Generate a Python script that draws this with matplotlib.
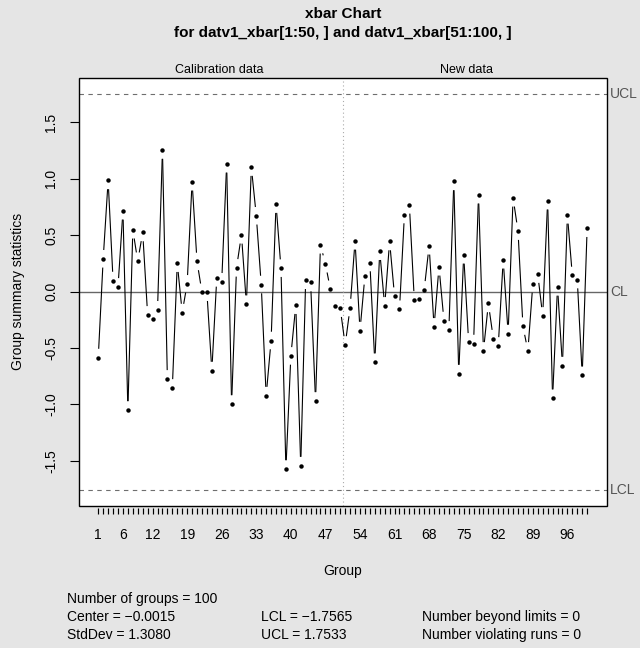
import numpy as np
import matplotlib
matplotlib.use("Agg")
import matplotlib.pyplot as plt
from matplotlib.transforms import blended_transform_factory

plt.rcParams['font.family'] = ['Liberation Sans', 'DejaVu Sans']

# group means, calibration (1-50) and new data (51-100)
stats = [-0.585, 0.290, 0.984, 0.097, 0.041, 0.715, -1.049, 0.547, 0.269, 0.523,
         -0.207, -0.239, -0.162, 1.253, -0.774, -0.854, 0.251, -0.186, 0.068, 0.972,
         0.266, -0.006, -0.006, -0.700, 0.121, 0.086, 1.131, -0.996, 0.210, 0.502,
         -0.112, 1.102, 0.671, 0.062, -0.922, -0.434, 0.774, 0.207, -1.572, -0.570,
         -0.121, -1.542, 0.100, 0.080, -0.969, 0.414, 0.245, 0.021, -0.124, -0.148,
         -0.473, -0.142, 0.449, -0.346, 0.139, 0.257, -0.626, 0.357, -0.127, 0.443,
         -0.041, -0.157, 0.682, 0.768, -0.074, -0.065, 0.015, 0.405, -0.313, 0.219,
         -0.257, -0.340, 0.975, -0.727, 0.325, -0.446, -0.461, 0.857, -0.526, -0.106,
         -0.417, -0.482, 0.281, -0.372, 0.830, 0.535, -0.307, -0.526, 0.068, 0.154,
         -0.216, 0.804, -0.945, 0.041, -0.656, 0.679, 0.142, 0.106, -0.742, 0.561]
n_calib = 50
center = -0.0015
std_dev = 1.3080
lcl = -1.7565
ucl = 1.7533
xtick_labels = [1, 6, 12, 19, 26, 33, 40, 47, 54, 61, 68, 75, 82, 89, 96]
ytick_values = [-1.5, -1.0, -0.5, 0.0, 0.5, 1.0, 1.5]

groups = np.arange(1, len(stats) + 1)
y = np.array(stats)


def fmt(v):
    return ('%.4f' % v).replace('-', '\u2212')


W, H = 640, 648
fig = plt.figure(figsize=(W / 100, H / 100), dpi=100, facecolor='#e5e5e5')
ax = fig.add_axes([78.7 / W, 1 - 505.7 / H, 528 / W, 428 / H])
ax.set_facecolor('white')

# R style 4% axis extension
lo, hi = min(y.min(), lcl), max(y.max(), ucl)
ext = 0.04 * (hi - lo)
ax.set_ylim(lo - ext, hi + ext)
xext = 0.04 * (len(stats) - 1)
ax.set_xlim(1 - xext, len(stats) + xext)

# control limits
ax.axhline(center, color='#666666', lw=1.0)
ax.axhline(ucl, color='#6e6e6e', lw=0.8, linestyle=(0, (4, 4)))
ax.axhline(lcl, color='#6e6e6e', lw=0.8, linestyle=(0, (4, 4)))
ax.axvline(n_calib + 0.5, color='#aaaaaa', lw=0.8, linestyle=(0, (1, 2.5)))

# lines with gaps around the points (like type = "b")
gap = 8.8
pts = ax.transData.transform(np.column_stack([groups, y]))
inv = ax.transData.inverted()
for i in range(len(pts) - 1):
    p0, p1 = pts[i], pts[i + 1]
    d = np.hypot(*(p1 - p0))
    if d > 2 * gap:
        f = gap / d
        a = inv.transform(p0 + f * (p1 - p0))
        b = inv.transform(p1 + f * (p0 - p1))
        ax.plot([a[0], b[0]], [a[1], b[1]], color='black', lw=0.8,
                solid_capstyle='butt')
ax.plot(groups, y, linestyle='none', marker='o', ms=3.2, color='black',
        markeredgewidth=0)

# axes frame and ticks
for s in ax.spines.values():
    s.set_visible(False)
ax.add_patch(plt.Rectangle((0, 0), 1, 1, transform=ax.transAxes, fill=False,
                           edgecolor='black', lw=1.0, clip_on=False, zorder=5))
ax.spines['bottom'].set_visible(True)
ax.spines['bottom'].set_color('none')
ax.spines['bottom'].set_position(('outward', 1.5))
ax.spines['left'].set_visible(True)
ax.spines['left'].set_color('none')

ax.set_xticks(groups)
ax.set_xticklabels([str(g) if g in xtick_labels else '' for g in groups])
ax.tick_params(axis='x', length=4.5, width=0.85, pad=10, labelsize=10)
ax.set_yticks(ytick_values)
ax.set_yticklabels(['%.1f' % v for v in ytick_values])
ax.tick_params(axis='y', length=6.8, width=0.8, pad=8, labelsize=10,
               labelrotation=90)
for lab in ax.get_yticklabels():
    lab.set_va('center')

# limit labels on the right
tr = blended_transform_factory(ax.transAxes, ax.transData)
for val, name in [(ucl, 'UCL'), (center, 'CL'), (lcl, 'LCL')]:
    ax.text(1.006, val, name, transform=tr, ha='left', va='center',
            fontsize=10, color='#555555', clip_on=False)

# section labels above the plot
tr2 = blended_transform_factory(ax.transData, fig.transFigure)
ax.text(np.mean(groups[:n_calib]), 1 - 70 / H, 'Calibration data',
        transform=tr2, ha='center', va='center', fontsize=9)
ax.text(np.mean(groups[n_calib:]), 1 - 70 / H, 'New data',
        transform=tr2, ha='center', va='center', fontsize=9)

# titles and axis labels
cx = (78.7 + 528 / 2) / W
fig.text(cx, 1 - 14 / H, 'xbar Chart', ha='center', va='center',
         fontsize=11, fontweight='bold')
fig.text(cx, 1 - 33 / H, 'for datv1_xbar[1:50, ] and datv1_xbar[51:100, ]',
         ha='center', va='center', fontsize=11, fontweight='bold')
fig.text(cx, 1 - 571 / H, 'Group', ha='center', va='center', fontsize=10)
fig.text(18.5 / W, 1 - 291 / H, 'Group summary statistics', rotation=90,
         ha='center', va='center', fontsize=10)

# summary statistics
rows = [599, 617, 635]
fig.text(67.3 / W, 1 - rows[0] / H, 'Number of groups = %d' % len(stats),
         va='center', fontsize=10)
fig.text(67.3 / W, 1 - rows[1] / H, 'Center = ' + fmt(center),
         va='center', fontsize=10)
fig.text(67.3 / W, 1 - rows[2] / H, 'StdDev = ' + fmt(std_dev),
         va='center', fontsize=10)
fig.text(260.7 / W, 1 - rows[1] / H, 'LCL = ' + fmt(lcl),
         va='center', fontsize=10)
fig.text(260.7 / W, 1 - rows[2] / H, 'UCL = ' + fmt(ucl),
         va='center', fontsize=10)
fig.text(421.6 / W, 1 - rows[1] / H, 'Number beyond limits = 0',
         va='center', fontsize=10)
fig.text(421.6 / W, 1 - rows[2] / H, 'Number violating runs = 0',
         va='center', fontsize=10)

fig.savefig('out.png', dpi=100, facecolor=fig.get_facecolor())
